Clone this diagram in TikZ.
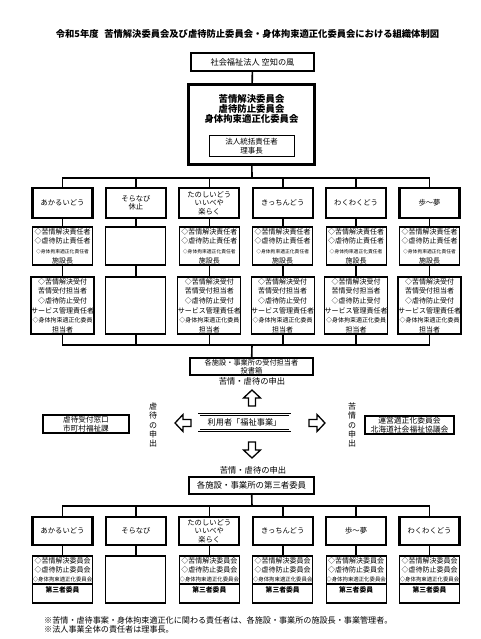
\documentclass[tikz,border=0pt]{standalone}
\usepackage{fontspec}
\setmainfont{Noto Sans CJK JP}

\newcommand\fs[2]{\fontsize{#1}{#2}\selectfont}
\newcommand\sekinin{◇苦情解決責任者\\◇虐待防止責任者\\{\fs{4.8}{9.5}◇身体拘束適正化責任者}\\施設長}
\newcommand\uketsuke{◇苦情解決受付\\苦情受付担当者\\◇虐待防止受付\\サービス管理責任者\\{\fs{6}{9.6}◇身体拘束適正化委員}\\担当者}
\newcommand\iinkaiTxt{◇苦情解決委員会\\◇虐待防止委員会\\{\fs{5.4}{9.5}◇身体拘束適正化委員会}}

\begin{document}
\begin{tikzpicture}[x=1pt,y=-1pt,
  thickbox/.style={draw,line width=2.2pt,fill=white,align=center,inner sep=0pt},
  namebox/.style={thickbox,minimum width=60pt,font=\fs{7.3}{8.6}},
  thinbox/.style={draw,line width=1.1pt,fill=white,minimum width=60pt,align=center,inner sep=0pt,font=\fs{7}{9.6}},
  link/.style={line width=1.6pt},
  tate/.style={align=center,font=\fs{8}{9.2},inner sep=0pt},
  hollowarrow/.pic={\draw[line width=1.3pt,fill=white] (-8,-3.5) -- (0,-3.5) -- (0,-8.5) -- (8,0) -- (0,8.5) -- (0,3.5) -- (-8,3.5) -- cycle;}]
  \useasboundingbox (0,0) rectangle (480,639);

  % title and corporation
  \node[font=\fs{9.3}{11}\bfseries] (title) at (247.5,34) {令和5年度\hspace{0.6em}苦情解決委員会及び虐待防止委員会・身体拘束適正化委員会における組織体制図};
  \node[thickbox,minimum width=123pt,minimum height=18pt,font=\fs{8.2}{10}] (hojin) at (252.5,62) {社会福祉法人 空知の風};
  \node[thickbox,minimum width=126pt,minimum height=80pt] (iinkai) at (251.5,124.5) {};
  \node[font=\fs{9.4}{9.6}\bfseries,align=center] (iinkaiName) at (251.5,109) {苦情解決委員会\\虐待防止委員会\\身体拘束適正化委員会};
  \node[draw,line width=1pt,minimum width=85pt,minimum height=21pt,align=center,inner sep=0pt,font=\fs{7.5}{9}] (tokatsu) at (251.5,146.5) {法人統括責任者\\理事長};
  \draw[link] (hojin) -- (iinkai);

  % facilities (upper)
  \coordinate (bus1) at (252,178);
  \coordinate (bus2) at (252,345);
  \draw[link] (iinkai) -- (bus1);
  \foreach \nm [count=\i] in {あかるいどう,{そらなび\\休止},{たのしいどう\\いいべや\\楽らく},きっちんどう,わくわくどう,歩～夢}
    \node[namebox,minimum height=30pt] (n\i) at ({62.5+73.4*(\i-1)},203) {\nm};
  \foreach \txt [count=\i] in {\sekinin,{},\sekinin,\sekinin,\sekinin,\sekinin}
    \node[thinbox,minimum height=38pt] (r\i) at ({62.5+73.4*(\i-1)},246) {\txt};
  \foreach \txt [count=\i] in {\uketsuke,{},\uketsuke,\uketsuke,\uketsuke,\uketsuke}
    \node[thinbox,minimum height=57pt] (u\i) at ({62.5+73.4*(\i-1)},305.5) {\txt};
  \foreach \i in {1,...,6} {
    \draw[link] (bus1) -| (n\i.north);
    \draw[link] (n\i) -- (r\i);
    \draw[link] (r\i) -- (u\i);
    \draw[link] (u\i.south) |- (bus2);
  }

  % reporting
  \node[thickbox,minimum width=123pt,minimum height=17pt,font=\fs{7.2}{7.6}] (madoguchi) at (251.5,366.5) {各施設・事業所の受付担当者\\[0.4pt]投書箱};
  \draw[link] (bus2) -- (madoguchi);
  \node[font=\fs{8.3}{10}] (moushide1) at (252,381.5) {苦情・虐待の申出};
  \node[draw,double,double distance=1.3pt,line width=0.6pt,minimum width=91pt,minimum height=16pt,inner sep=0pt,font=\fs{8.2}{10}] (riyosha) at (244.5,422.5) {利用者「福祉事業」};
  \node[thickbox,minimum width=86pt,minimum height=18pt,font=\fs{7.6}{8.6}] (gyakutai) at (86,424) {虐待受付窓口\\市町村福祉課};
  \node[thickbox,minimum width=89pt,minimum height=18pt,font=\fs{7.8}{8.6}] (tekisei) at (409.5,425) {運営適正化委員会\\北海道社会福祉協議会};
  \node[tate] (tateL) at (153,425) {虐\\待\\の\\申\\出};
  \node[tate] (tateR) at (352,425) {苦\\情\\の\\申\\出};
  \pic at (252,398) [rotate=90] {hollowarrow};
  \pic at (252,450) [rotate=-90] {hollowarrow};
  \pic at (183,423) [rotate=180] {hollowarrow};
  \pic at (317,423) {hollowarrow};

  % third-party members (lower)
  \node[font=\fs{8.3}{10}] (moushide2) at (253,470) {苦情・虐待の申出};
  \node[thickbox,minimum width=125pt,minimum height=17pt,font=\fs{8.4}{10}] (daisansha) at (251.5,485.5) {各施設・事業所の第三者委員};
  \coordinate (bus3) at (252,506);
  \draw[link] (daisansha) -- (bus3);
  \foreach \nm [count=\i] in {あかるいどう,そらなび,{たのしいどう\\いいべや\\楽らく},きっちんどう,歩～夢,わくわくどう}
    \node[namebox,minimum height=28pt] (m\i) at ({62.5+73.4*(\i-1)},531) {\nm};
  \foreach \i in {1,...,6} {
    \node[thinbox,minimum height=47pt] (c\i) at ({62.5+73.4*(\i-1)},579.5) {};
    \draw[link] (bus3) -| (m\i.north);
    \draw[link] (m\i) -- (c\i);
  }
  \foreach \i in {1,3,4,5,6} {
    \node[anchor=north,align=center,inner sep=0pt,font=\fs{7}{9.2}] (ct\i) at ([yshift=-1.5pt]c\i.north) {\iinkaiTxt};
    \draw[line width=1.1pt] (c\i.west |- 0,584) -- (c\i.east |- 0,584);
    \node[font=\fs{6.8}{8}\bfseries] (cm\i) at (c\i.center |- 0,590) {第三者委員};
  }

  % notes
  \node[anchor=west,align=left,inner sep=0pt,font=\fs{8.1}{9.2}] (notes) at (44,624.5) {※苦情・虐待事案・身体拘束適正化に関わる責任者は、各施設・事業所の施設長・事業管理者。\\※法人事業全体の責任者は理事長。};
\end{tikzpicture}
\end{document}
